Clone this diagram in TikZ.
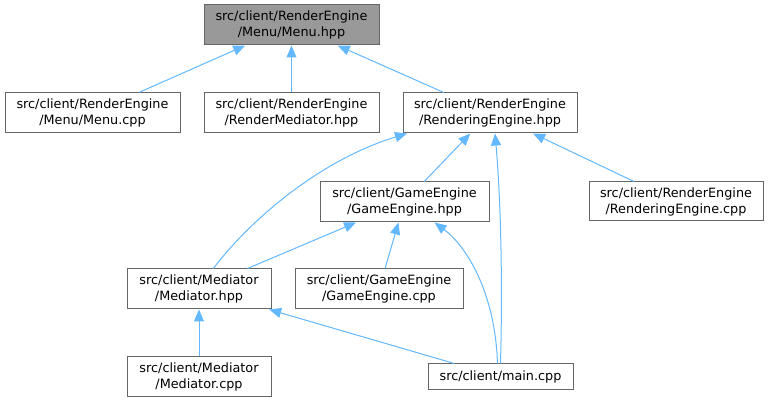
\documentclass[tikz,border=0pt]{standalone}
\usepackage{fontspec}
\setmainfont{DejaVu Sans}
\usetikzlibrary{arrows.meta}
\definecolor{edgeblue}{HTML}{63B8FF}
\definecolor{boxgray}{HTML}{666666}
\definecolor{rootgray}{HTML}{999999}
\begin{document}
\begin{tikzpicture}[x=1pt, y=-1pt,
  file/.style={rectangle, draw=boxgray, line width=1pt, fill=white,
    minimum height=40pt, inner sep=0pt, align=center,
    font=\fontsize{12.8}{16}\selectfont},
  dep/.style={draw=edgeblue, line width=1pt,
    -{Triangle[length=12pt, width=10pt, fill=edgeblue]}}]
  \useasboundingbox (0,0) rectangle (769,403);

  \node[file, fill=rootgray, minimum width=175pt] (menuh) at (291.5,25) {src/client/RenderEngine\\/Menu/Menu.hpp};
  \node[file, minimum width=175pt] (menuc) at (92.5,113) {src/client/RenderEngine\\/Menu/Menu.cpp};
  \node[file, minimum width=175pt] (rmed) at (291.5,113) {src/client/RenderEngine\\/RenderMediator.hpp};
  \node[file, minimum width=174pt] (rengh) at (490,113) {src/client/RenderEngine\\/RenderingEngine.hpp};
  \node[file, minimum width=174pt, minimum height=39pt] (rengc) at (676,201.5) {src/client/RenderEngine\\/RenderingEngine.cpp};
  \node[file, minimum width=169pt] (gameh) at (404.5,202) {src/client/GameEngine\\/GameEngine.hpp};
  \node[file, minimum width=144pt] (medh) at (199,289) {src/client/Mediator\\/Mediator.hpp};
  \node[file, minimum width=168pt] (gamec) at (379,289) {src/client/GameEngine\\/GameEngine.cpp};
  \node[file, minimum width=144pt] (medc) at (199,377) {src/client/Mediator\\/Mediator.cpp};
  \node[file, minimum width=145pt, minimum height=26pt] (mainc) at (500.5,377) {src/client/main.cpp};

  \draw[dep] (menuc) -- (menuh);
  \draw[dep] (rmed) -- (menuh);
  \draw[dep] (rengh) -- (menuh);
  \draw[dep] (gameh) -- (rengh);
  \draw[dep] (rengc) -- (rengh);
  \draw[dep] (medh.55) .. controls (250,220) and (320,160) .. ([xshift=-83pt]rengh.south);
  \draw[dep] (mainc.north) .. controls (503,270) and (500,190) .. ([xshift=5pt]rengh.south);
  \draw[dep] (medh) -- (gameh);
  \draw[dep] (gamec) -- (gameh);
  \draw[dep] ([xshift=-3pt]mainc.north) .. controls (495,290) and (465,245) .. ([xshift=30pt]gameh.south);
  \draw[dep] (medc) -- (medh);
  \draw[dep] (mainc) -- (medh);
\end{tikzpicture}
\end{document}
